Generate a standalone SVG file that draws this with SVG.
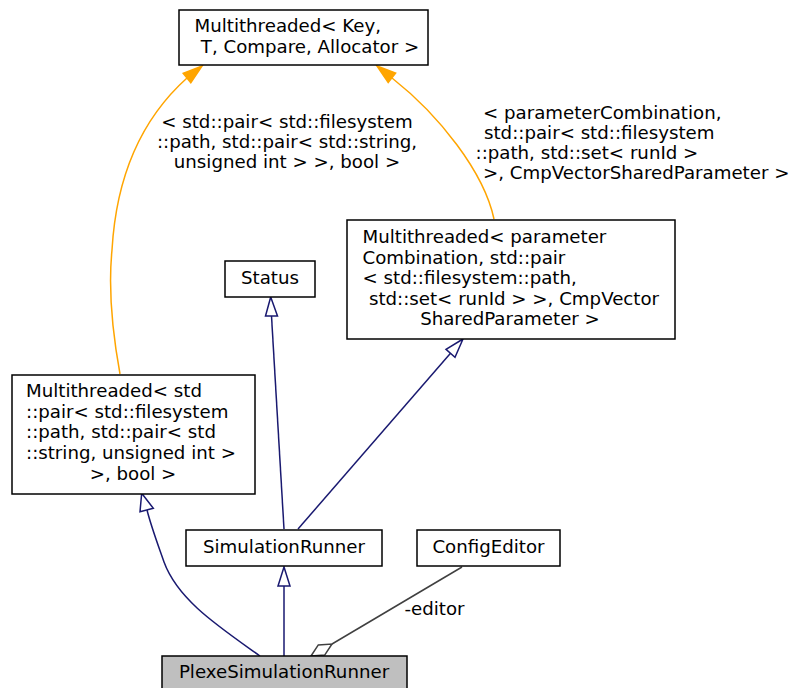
<svg xmlns="http://www.w3.org/2000/svg" width="793" height="688" viewBox="0 0 793 688">
<style>
text{font-family:"DejaVu Sans","Liberation Sans",sans-serif;font-size:18.2px;fill:#000}
.m{text-anchor:middle}
.s{text-anchor:start}
.box{fill:#fff;stroke:#000;stroke-width:1.5}
.cur{fill:#bfbfbf;stroke:#000;stroke-width:1.5}
.inh{fill:none;stroke:#191970;stroke-width:1.5}
.inhA{fill:#fff;stroke:#191970;stroke-width:1.5}
.tpl{fill:none;stroke:#ffa500;stroke-width:1.5}
.tplA{fill:#ffa500;stroke:#ffa500;stroke-width:1.5}
.use{fill:none;stroke:#404040;stroke-width:1.5}
.useA{fill:#fff;stroke:#404040;stroke-width:1.5}
</style>
<rect width="793" height="688" fill="#fff"/>
<g id="connectors">
  <path class="tpl" d="M120,374 C112,330 108,290 112,250 C116,180 138,122 187,78"/>
  <polygon class="tplA" points="202,66 190.8,82.7 183.2,73.3"/>
  <path class="tpl" d="M494,219 C484,172 439,115 392,78"/>
  <polygon class="tplA" points="377,66 395.6,73 388.2,82.4"/>
  <path class="inh" d="M284,529 L271.5,316"/>
  <polygon class="inhA" points="270.7,297 277.5,316 265.5,316"/>
  <path class="inh" d="M298,529 L450.5,353.3"/>
  <polygon class="inhA" points="463,339 455,357.2 446,349.4"/>
  <path class="inh" d="M284,656 L284,586"/>
  <polygon class="inhA" points="284,567 290,586 278,586"/>
  <path class="inh" d="M260,656 C218,626 178,600 164,562 C157,542 151,526 147,510"/>
  <polygon class="inhA" points="141.7,493.3 153.3,508.3 140,511.7"/>
  <path class="use" d="M462,567 L332,644"/>
  <polygon class="useA" points="311,656 318.3,644.9 332,644 324.7,655.1"/>
  <text class="m" x="287" y="127.5">&lt; std::pair&lt; std::filesystem</text>
  <text class="m" x="287" y="147.5">::path, std::pair&lt; std::string,</text>
  <text class="m" x="287" y="168">unsigned int &gt; &gt;, bool &gt;</text>
  <text class="s" x="483" y="118.5">&lt; parameterCombination,</text>
  <text class="s" x="484" y="139">std::pair&lt; std::filesystem</text>
  <text class="s" x="475.5" y="159">::path, std::set&lt; runId &gt;</text>
  <text class="s" x="483" y="179">&gt;, CmpVectorSharedParameter &gt;</text>
  <text class="m" x="434.5" y="615">-editor</text>
</g>
<g id="node_multithreaded_key">
  <rect class="box" x="179" y="10" width="249" height="55"/>
  <text class="s" x="194.5" y="32">Multithreaded&lt; Key,</text>
  <text class="m" x="310" y="53">T, Compare, Allocator &gt;</text>
</g>
<g id="node_status">
  <rect class="box" x="225" y="261" width="90" height="36"/>
  <text class="m" x="270" y="284">Status</text>
</g>
<g id="node_multithreaded_param">
  <rect class="box" x="347" y="220" width="328" height="119"/>
  <text class="s" x="362.5" y="243">Multithreaded&lt; parameter</text>
  <text class="s" x="362.5" y="263.5">Combination, std::pair</text>
  <text class="s" x="362.5" y="284">&lt; std::filesystem::path,</text>
  <text class="m" x="514" y="304.5">std::set&lt; runId &gt; &gt;, CmpVector</text>
  <text class="m" x="510" y="325">SharedParameter &gt;</text>
</g>
<g id="node_multithreaded_pair">
  <rect class="box" x="12" y="375" width="243" height="119"/>
  <text class="s" x="26" y="397">Multithreaded&lt; std</text>
  <text class="s" x="26" y="418">::pair&lt; std::filesystem</text>
  <text class="s" x="26" y="438">::path, std::pair&lt; std</text>
  <text class="s" x="26" y="459">::string, unsigned int &gt;</text>
  <text class="m" x="133" y="479.5">&gt;, bool &gt;</text>
</g>
<g id="node_simulationrunner">
  <rect class="box" x="186" y="530" width="196" height="36"/>
  <text class="m" x="284" y="553">SimulationRunner</text>
</g>
<g id="node_configeditor">
  <rect class="box" x="417" y="530" width="143" height="36"/>
  <text class="m" x="488.5" y="553">ConfigEditor</text>
</g>
<g id="node_plexesimulationrunner">
  <rect class="cur" x="162" y="656" width="245" height="36"/>
  <text class="m" x="284" y="678">PlexeSimulationRunner</text>
</g>
</svg>
